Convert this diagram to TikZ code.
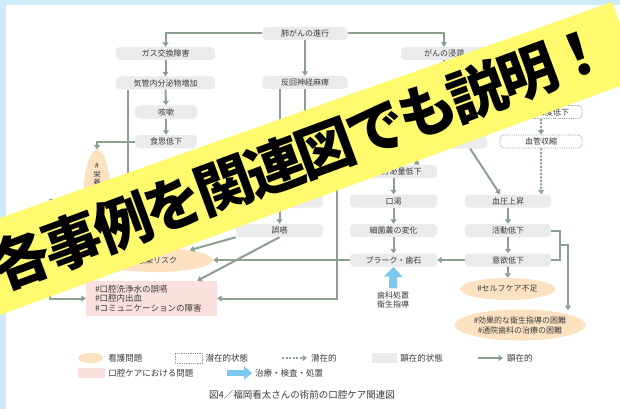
\documentclass[tikz,border=0pt]{standalone}
\usepackage{fontspec}
\setmainfont{Noto Sans CJK JP}
\usetikzlibrary{positioning, arrows.meta, shapes.geometric, calc}

\definecolor{bgblue}{HTML}{CFEAFB}
\definecolor{boxgray}{HTML}{EBEBEB}
\definecolor{linegreen}{HTML}{8BA08F}
\definecolor{peach}{HTML}{FDE2C2}
\definecolor{pinkbg}{HTML}{FBE1DE}
\definecolor{arrowblue}{HTML}{7CC8F0}
\definecolor{banneryellow}{HTML}{FFFA6E}
\definecolor{txtgray}{HTML}{3A3A3A}

\newcommand\bkern{\kern-4pt}

\tikzset{
  st/.style={rectangle, rounded corners=4pt, fill=boxgray, minimum width=86pt,
    minimum height=13pt, inner sep=0pt, text=txtgray, font=\fontsize{8}{9}\selectfont},
  pot/.style={st, fill=white, draw=linegreen, densely dotted, line width=0.8pt},
  prob/.style={ellipse, fill=peach, inner sep=0pt, text=txtgray, align=center,
    font=\fontsize{8}{10}\selectfont},
  oc/.style={rectangle, fill=pinkbg, inner xsep=9pt, inner ysep=0pt, text=txtgray,
    align=left, font=\fontsize{8.5}{9.3}\selectfont},
  link/.style={draw=linegreen, line width=2pt, -{Triangle[length=4.5pt,width=6pt]}},
  plink/.style={link, dash pattern=on 2pt off 1.5pt},
  care/.style={draw=arrowblue, line width=8pt, -{Triangle[length=10pt,width=18pt]}},
  leg/.style={anchor=west, inner sep=0pt, text=txtgray, font=\fontsize{8.5}{10}\selectfont}
}

\begin{document}
\begin{tikzpicture}[x=1pt, y=-1pt, node distance=29.5pt]
  \useasboundingbox (0,0) rectangle (620,409);
  \fill[bgblue] (0,0) rectangle (620,409);
  \fill[white] (6,5) rectangle (620,409);

  % states
  \node[st, minimum width=85pt] (lung) at (305,33.5) {肺がんの進行};
  \node[st, minimum width=99pt] (gas) at (165.5,53.5) {ガス交換障害};
  \node[st] (inv) at (444,53.5) {がんの浸潤};
  \node[st, minimum width=99pt, below of=gas] (secr) {気管内分泌物増加};
  \node[st, minimum width=85pt] (rln) at (305,82.5) {反回神経麻痺};
  \node[st, below of=inv] (pain) {胸痛};
  \node[st, minimum width=62pt] (cough) at (166,112) {咳嗽};
  \node[st, minimum width=62pt, below of=cough] (appet) {食思低下};
  \node[st, below of=pain] (anx) {疼痛};
  \node[st, below of=anx] (symp) {不安};
  \node[pot, minimum width=82pt] (hypo) at (541,112) {酸素飽和度低下};
  \node[pot, minimum width=82pt, below of=hypo] (vaso) {血管収縮};
  \node[st, minimum width=87pt] (sal) at (393.5,171.5) {唾液分泌量低下};
  \node[st, minimum width=87pt, below of=sal] (dry) {口渇};
  \node[st, minimum width=87pt, below of=dry] (flora) {細菌叢の変化};
  \node[st, minimum width=87pt, below of=flora] (plq) {プラーク・歯石};
  \node[st] (bp) at (508,201) {血圧上昇};
  \node[st, below of=bp] (act) {活動低下};
  \node[st, below of=act] (motiv) {意欲低下};
  \node[st, minimum width=87pt] (swal) at (279.5,201) {嗄声};
  \node[st, minimum width=87pt, below of=swal] (asp) {誤嚥};

  % problems
  \node[prob, minimum width=27pt, minimum height=88pt, font=\fontsize{7.5}{8.5}\selectfont]
    (nut) at (97,196) {\#\\栄\\養\\状\\態\\の\\悪\\化};
  \node[prob, minimum width=116pt, minimum height=24pt] (inf) at (155,260) {\#感染リスク};
  \node[prob, minimum width=95pt, minimum height=22pt] (self) at (507.5,289) {\#セルフケア不足};
  \node[prob, minimum width=124pt, minimum height=31pt] (diff) at (520,325)
    {\#効果的な衛生指導の困難\\\#通院歯科の治療の困難};
  \node[oc, minimum width=131pt, minimum height=35pt, text width=113pt] (oc) at (151.5,298.5)
    {\#口腔洗浄水の誤嚥\\\#口腔内出血\\\#コミュニケーションの障害};
  \node[font=\fontsize{8}{9}\selectfont, text=txtgray, align=center] (trt) at (393,300)
    {歯科処置\\衛生指導};

  \draw[link] (lung.west) -| (gas.north);
  \draw[link] (lung.east) -| (inv.north);
  \draw
    (lung) edge[link] (rln)
    (gas) edge[link] (secr)
    (secr) edge[link] (cough)
    (cough) edge[link] (appet)
    (inv) edge[link] (pain)
    (pain) edge[link] (anx)
    (anx) edge[link] (symp)
    ([xshift=-25.5pt]rln.south) edge[link] (swal)
    (swal) edge[link] (asp)
    (sal) edge[link] (dry)
    (dry) edge[link] (flora)
    (flora) edge[link] (plq)
    (bp) edge[link] (act)
    (act) edge[link] (motiv)
    (motiv) edge[link] (plq)
    (motiv) edge[link] (self)
    (plq) edge[link] (inf)
    (asp.south west) edge[link] (inf)
    (asp.south) edge[link] ([xshift=-20pt]oc.north east)
    (symp.south west) edge[link] ([xshift=-18pt]sal.north east)
    ([xshift=-17pt]symp.south east) edge[link] ([xshift=-8pt]bp.north)
    (hypo) edge[plink] (vaso)
    (vaso) edge[plink] ([xshift=-10pt]bp.north east)
    ;
  \draw[link] (appet.west) -| (nut.north);
  \draw[link] ([xshift=-37.5pt]secr.south) |- (50,200) |- (oc.west);
  \draw[link] (rln.south) -- ++(0,77.5) -- ++(32,0) |- (oc.east);
  \coordinate (jn) at (560,245);
  \coordinate (dtop) at (568,310);
  \draw[link, -] (act.east) -| (jn);
  \draw[link, -] (motiv.east) -| (jn);
  \draw[link] (jn) -| (dtop);
  \draw[care] (trt.north) -- (plq.south);

  % legend
  \node[prob, minimum width=25pt, minimum height=10pt] (lg1) at (90.5,358) {};
  \node[leg, right=5pt of lg1] (lt1) {看護問題};
  \node[pot, minimum width=27pt, minimum height=10pt, rounded corners=0pt] (lg2) at (188.5,358) {};
  \node[leg, right=3pt of lg2] (lt2) {潜在的状態};
  \coordinate (lg3a) at (282,358);
  \coordinate (lg3b) at (307,358);
  \draw[plink] (lg3a) -- (lg3b);
  \node[leg, right=4pt of lg3b] (lt3) {潜在的};
  \node[st, minimum width=25pt, minimum height=10pt, rounded corners=0pt] (lg4) at (384.5,358) {};
  \node[leg, right=3pt of lg4] (lt4) {顕在的状態};
  \coordinate (lg5a) at (478,358);
  \coordinate (lg5b) at (503,358);
  \draw[link] (lg5a) -- (lg5b);
  \node[leg, right=4pt of lg5b] (lt5) {顕在的};
  \node[fill=pinkbg, minimum width=27pt, minimum height=10pt, inner sep=0pt] (lg6) at (91.5,373) {};
  \node[leg, right=3pt of lg6] (lt6) {口腔ケアにおける問題};
  \coordinate (lg7a) at (227,373);
  \coordinate (lg7b) at (252,373);
  \draw[care, line width=6pt, -{Triangle[length=8pt,width=13pt]}] (lg7a) -- (lg7b);
  \node[leg, right=3pt of lg7b] (lt7) {治療・検査・処置};
  \node[font=\fontsize{9.5}{11}\selectfont, text=txtgray] (cap) at (302,395)
    {図4／福岡看太さんの術前の口腔ケア関連図};

  % banner
  \fill[banneryellow] (0,218) -- (612,2) -- (639.7,78.7) -- (0,315) -- cycle;
  \node[rotate=20.3, font=\fontsize{58}{58}\selectfont\bfseries] (ban) at (300,157)
    {各\bkern 事\bkern 例\bkern を\bkern 関\bkern 連\bkern 図\bkern で\bkern も\bkern 説\bkern 明\bkern ！};
\end{tikzpicture}
\end{document}
